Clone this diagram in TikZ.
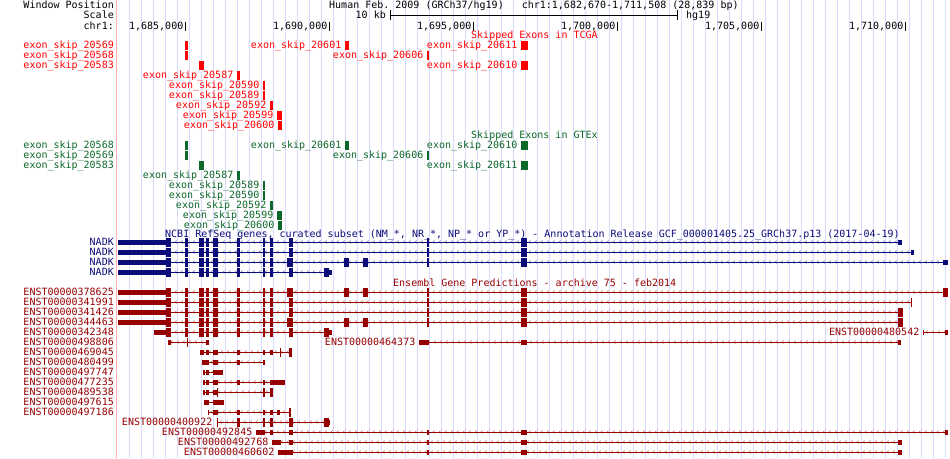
\documentclass[tikz,border=0pt]{standalone}
\usepackage{fontspec}
\setmonofont{DejaVu Sans Mono}
\usetikzlibrary{positioning}
\definecolor{tcgared}{RGB}{255,0,0}
\definecolor{gtexgreen}{RGB}{12,104,40}
\definecolor{refblue}{RGB}{12,12,120}
\definecolor{ensred}{RGB}{150,0,0}
\definecolor{gridblue}{RGB}{218,218,255}
\definecolor{sidepink}{RGB}{255,176,176}
\tikzset{
  gbtext/.style={font=\ttfamily\fontsize{10}{10}\selectfont, inner sep=0pt},
  gbleft/.style={gbtext, anchor=base east},
  gbright/.style={gbtext, anchor=base west},
  gbgrid/.style={gridblue, line width=1pt},
}
% exon blocks, utr blocks and intron lines of one track row
\newcommand{\gbexons}[3]{\foreach \ea/\eb in {#3}{\fill[#1] (\ea,#2-4.5) rectangle (\eb,#2+4.5);}}
\newcommand{\gbutrs}[3]{\foreach \ea/\eb in {#3}{\fill[#1] (\ea,#2-2.5) rectangle (\eb,#2+2.5);}}
\newcommand{\gbline}[4]{%
  \pgfmathsetmacro\gbchA{#3+3}\pgfmathsetmacro\gbchB{#3+9}\pgfmathsetmacro\gbchE{#4-3}%
  \draw[#1!45!white, line width=0.7pt] foreach \cx in {\gbchA,\gbchB,...,\gbchE}
    {(\cx+1.6,#2-1.6) -- (\cx,#2) -- (\cx+1.6,#2+1.6)};
  \draw[#1, line width=1pt] (#3,#2) -- (#4,#2);
}

\begin{document}
\begin{tikzpicture}[x=1pt, y=-1pt]
  \useasboundingbox[fill=white] (0,0) rectangle (950,458);

  % grid
  \foreach \k in {0,...,68}
    \draw[gbgrid] (129+12*\k,0) -- (129+12*\k,458);
  \draw[sidepink, line width=1pt] (116.5,0) -- (116.5,458);

  % header
  \node[gbleft] (winpos) at (114,8.5) {Window Position};
  \node[gbleft] (scale) at (114,18.5) {Scale};
  \node[gbleft] (chrom) at (114,29.5) {chr1:};
  \node[gbright] (assembly) at (329,8.5)
    {Human Feb. 2009 (GRCh37/hg19)\ \ \ chr1:1,682,670-1,711,508 (28,839 bp)};
  \node[gbleft] (tenkb) at (386,18.5) {10 kb};
  \node[gbright] (hgnine) at (686,18.5) {hg19};
  \draw (390,15) -- (678,15);
  \draw (390.5,10) -- (390.5,20);
  \draw (677.5,10) -- (677.5,20);

  \node[gbleft] (pos1685) at (183.5,29.5) {1,685,000};
  \node[gbleft] (pos1690) at (327.5,29.5) {1,690,000};
  \node[gbleft] (pos1695) at (471.5,29.5) {1,695,000};
  \node[gbleft] (pos1700) at (615.5,29.5) {1,700,000};
  \node[gbleft] (pos1705) at (759.5,29.5) {1,705,000};
  \node[gbleft] (pos1710) at (903.5,29.5) {1,710,000};
  \foreach \p in {185.5,329.5,473.5,617.5,761.5,905.5}
    \draw (\p,22) -- (\p,31);

  % skipped exons in TCGA
  \node[gbright, tcgared] (tcgatitle) at (471,38.5) {Skipped Exons in TCGA};
  \node[gbleft, tcgared] (tcga20569) at (114,48.5) {exon\_skip\_20569};
  \node[gbleft, tcgared] (tcga20568) at (114,58.5) {exon\_skip\_20568};
  \node[gbleft, tcgared] (tcga20583) at (114,68.5) {exon\_skip\_20583};
  \node[gbleft, tcgared] (tcga20601) at (341.5,48.5) {exon\_skip\_20601};
  \node[gbleft, tcgared] (tcga20611) at (517.5,48.5) {exon\_skip\_20611};
  \node[gbleft, tcgared] (tcga20606) at (423.5,58.5) {exon\_skip\_20606};
  \node[gbleft, tcgared] (tcga20610) at (517.5,68.5) {exon\_skip\_20610};
  \node[gbleft, tcgared] (tcga20587) at (233.5,78.5) {exon\_skip\_20587};
  \node[gbleft, tcgared] (tcga20590) at (259.5,88.5) {exon\_skip\_20590};
  \node[gbleft, tcgared] (tcga20589) at (259.5,98.5) {exon\_skip\_20589};
  \node[gbleft, tcgared] (tcga20592) at (266.5,108.5) {exon\_skip\_20592};
  \node[gbleft, tcgared] (tcga20599) at (273.5,118.5) {exon\_skip\_20599};
  \node[gbleft, tcgared] (tcga20600) at (274.5,128.5) {exon\_skip\_20600};
  \gbexons{tcgared}{45}{185/188, 345/349, 521/528}
  \gbexons{tcgared}{55}{185/188, 427/429}
  \gbexons{tcgared}{65}{199/204, 521/528}
  \gbexons{tcgared}{75}{237/240}
  \gbexons{tcgared}{85}{263/265}
  \gbexons{tcgared}{95}{263/265}
  \gbexons{tcgared}{105}{270/273}
  \gbexons{tcgared}{115}{277/282}
  \gbexons{tcgared}{125}{278/282}

  % skipped exons in GTEx
  \node[gbright, gtexgreen] (gtextitle) at (471,138.5) {Skipped Exons in GTEx};
  \node[gbleft, gtexgreen] (gtex20568) at (114,148.5) {exon\_skip\_20568};
  \node[gbleft, gtexgreen] (gtex20569) at (114,158.5) {exon\_skip\_20569};
  \node[gbleft, gtexgreen] (gtex20583) at (114,168.5) {exon\_skip\_20583};
  \node[gbleft, gtexgreen] (gtex20601) at (341.5,148.5) {exon\_skip\_20601};
  \node[gbleft, gtexgreen] (gtex20610) at (517.5,148.5) {exon\_skip\_20610};
  \node[gbleft, gtexgreen] (gtex20606) at (423.5,158.5) {exon\_skip\_20606};
  \node[gbleft, gtexgreen] (gtex20611) at (517.5,168.5) {exon\_skip\_20611};
  \node[gbleft, gtexgreen] (gtex20587) at (233.5,178.5) {exon\_skip\_20587};
  \node[gbleft, gtexgreen] (gtex20589) at (259.5,188.5) {exon\_skip\_20589};
  \node[gbleft, gtexgreen] (gtex20590) at (259.5,198.5) {exon\_skip\_20590};
  \node[gbleft, gtexgreen] (gtex20592) at (266.5,208.5) {exon\_skip\_20592};
  \node[gbleft, gtexgreen] (gtex20599) at (273.5,218.5) {exon\_skip\_20599};
  \node[gbleft, gtexgreen] (gtex20600) at (274.5,228.5) {exon\_skip\_20600};
  \gbexons{gtexgreen}{145}{185/188, 345/349, 521/528}
  \gbexons{gtexgreen}{155}{185/188, 427/429}
  \gbexons{gtexgreen}{165}{199/204, 521/528}
  \gbexons{gtexgreen}{175}{237/240}
  \gbexons{gtexgreen}{185}{263/265}
  \gbexons{gtexgreen}{195}{263/265}
  \gbexons{gtexgreen}{205}{270/273}
  \gbexons{gtexgreen}{215}{277/282}
  \gbexons{gtexgreen}{225}{278/282}

  % NCBI RefSeq
  \node[gbright, refblue] (reftitle) at (165,237.5)
    {NCBI RefSeq genes, curated subset (NM\_*, NR\_*, NP\_* or YP\_*) - Annotation Release GCF\_000001405.25\_GRCh37.p13 (2017-04-19)};
  \foreach \r/\y in {a/242, b/252, c/262, d/272}
    \node[gbleft, refblue] (nadk\r) at (114,\y+3.5) {NADK};
  \gbline{refblue}{242}{118}{902}
  \gbutrs{refblue}{242}{118/166, 898/902}
  \gbexons{refblue}{242}{166/171, 185/188, 199/204, 206/209, 213/218, 237/240, 263/265, 270/273, 289/293, 427/429, 521/527}
  \gbline{refblue}{252}{118}{913}
  \gbutrs{refblue}{252}{118/166, 910.5/913.5}
  \gbexons{refblue}{252}{166/171, 185/188, 199/204, 206/209, 213/218, 237/240, 263/265, 270/273, 289/293, 427/429, 521/527}
  \gbline{refblue}{262}{118}{948}
  \gbutrs{refblue}{262}{118/166, 943/948}
  \gbexons{refblue}{262}{166/171, 185/188, 199/204, 206/209, 213/218, 237/240, 263/265, 270/273, 287/293, 344/349, 363/368, 427/429, 521/527}
  \gbline{refblue}{272}{118}{332}
  \gbutrs{refblue}{272}{118/166, 329/332}
  \gbexons{refblue}{272}{166/171, 185/188, 199/204, 206/209, 213/218, 237/240, 263/265, 270/273, 289/293, 324/329}

  % Ensembl
  \node[gbright, ensred] (enstitle) at (393,286.5) {Ensembl Gene Predictions - archive 75 - feb2014};
  \foreach \t/\y in {378625/292, 341991/302, 341426/312, 344463/322, 342348/332,
                     498806/342, 469045/352, 480499/362, 497747/372, 477235/382,
                     489538/392, 497615/402, 497186/412}
    \node[gbleft, ensred] (e\t) at (114,\y+3.5) {ENST00000\t};
  \node[gbleft, ensred] (e400922) at (212.5,425.5) {ENST00000400922};
  \node[gbleft, ensred] (e492845) at (252.5,435.5) {ENST00000492845};
  \node[gbleft, ensred] (e492768) at (268.5,445.5) {ENST00000492768};
  \node[gbleft, ensred] (e460602) at (274.5,455.5) {ENST00000460602};
  \node[gbleft, ensred] (e464373) at (415.5,345.5) {ENST00000464373};
  \node[gbleft, ensred] (e480542) at (919.5,335.5) {ENST00000480542};

  \gbline{ensred}{292}{118}{948}
  \gbutrs{ensred}{292}{118/166}
  \gbexons{ensred}{292}{166/171, 185/188, 199/204, 206/209, 213/218, 237/240, 263/265, 270/273, 287/293, 344/349, 363/368, 427/429, 521/527, 943/948}
  \gbline{ensred}{302}{118}{911}
  \gbutrs{ensred}{302}{118/166}
  \gbexons{ensred}{302}{166/171, 185/188, 199/204, 206/209, 213/218, 237/240, 263/265, 270/273, 289/293, 427/429, 521/527, 910.5/911.5}
  \gbline{ensred}{312}{118}{903}
  \gbutrs{ensred}{312}{118/166}
  \gbexons{ensred}{312}{166/171, 185/188, 199/204, 206/209, 213/218, 237/240, 263/265, 270/273, 289/293, 427/429, 521/527, 898/903}
  \gbline{ensred}{322}{118}{903}
  \gbutrs{ensred}{322}{118/166}
  \gbexons{ensred}{322}{166/171, 185/188, 199/204, 206/209, 213/218, 237/240, 263/265, 270/273, 287/293, 344/349, 363/368, 427/429, 521/527, 898/903}
  \gbline{ensred}{332}{154}{332}
  \gbutrs{ensred}{332}{154/166, 329/332}
  \gbexons{ensred}{332}{166/171, 185/188, 199/204, 206/209, 213/218, 237/240, 263/265, 270/273, 289/293, 324/329}
  \gbline{ensred}{332}{923}{948}
  \gbutrs{ensred}{332}{923/924, 945/948}
  \gbline{ensred}{342}{168}{209}
  \gbutrs{ensred}{342}{168/171, 206/209}
  \gbexons{ensred}{342}{187/188}
  \gbline{ensred}{342}{419}{901}
  \gbutrs{ensred}{342}{419/429, 521/527, 898/901}
  \gbline{ensred}{352}{200}{292}
  \gbutrs{ensred}{352}{200/204, 206/209, 213/218, 237/240, 263/265, 270/273}
  \gbexons{ensred}{352}{279.5/280.5, 289/292}
  \gbline{ensred}{362}{202}{265}
  \gbutrs{ensred}{362}{202/209, 213/218, 237/240, 263/265}
  \gbline{ensred}{372}{203}{223}
  \gbutrs{ensred}{372}{203/205, 206/209, 213/223}
  \gbline{ensred}{382}{203}{285}
  \gbutrs{ensred}{382}{203/205, 206/209, 213/218, 237/240, 263/265, 270/285}
  \gbline{ensred}{392}{203}{273}
  \gbutrs{ensred}{392}{203/205, 206/209, 213/217}
  \gbexons{ensred}{392}{217/218, 263/265, 270/273}
  \gbline{ensred}{402}{204}{224}
  \gbutrs{ensred}{402}{204/209, 213/224}
  \gbline{ensred}{412}{208}{291}
  \gbutrs{ensred}{412}{208/209, 213/218, 237/240, 263/265, 270/273, 277/280}
  \gbexons{ensred}{412}{289/291}
  \gbline{ensred}{422}{217}{330}
  \gbexons{ensred}{422}{217/218, 237/240, 263/265, 270/273, 289/293, 324/329}
  \gbutrs{ensred}{422}{329/330}
  \gbline{ensred}{432}{256}{948}
  \gbutrs{ensred}{432}{256/265, 270/273, 289/293, 427/429, 521/527, 945/948}
  \gbline{ensred}{442}{272}{902}
  \gbutrs{ensred}{442}{272/281, 289/293, 427/429, 521/527, 898/902}
  \gbline{ensred}{452}{278}{902}
  \gbutrs{ensred}{452}{278/293, 427/429, 521/527, 898/902}
\end{tikzpicture}
\end{document}
